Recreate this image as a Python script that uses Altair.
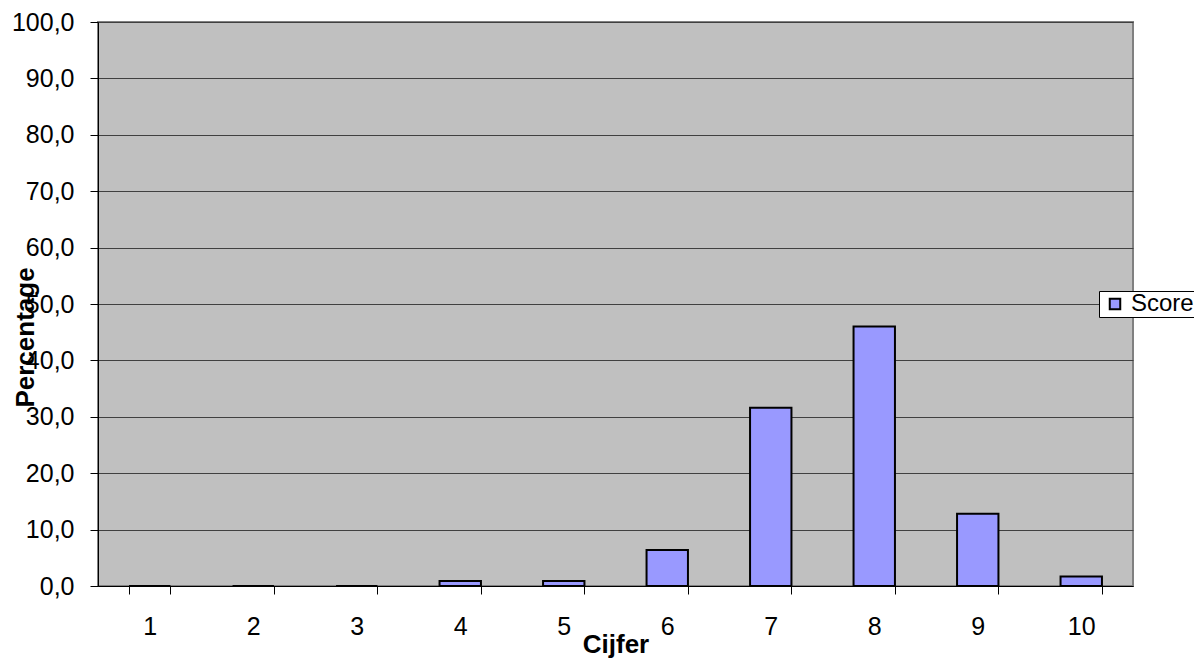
import altair as alt
import pandas as pd

categories = ["1", "2", "3", "4", "5", "6", "7", "8", "9", "10"]
values = [0.0, 0.0, 0.0, 0.9, 0.9, 6.4, 31.6, 46.0, 12.8, 1.7]
series = ["Score"] * len(categories)

df = pd.DataFrame({"Cijfer": categories, "Percentage": values, "Reeks": series})

FONT = "Liberation Sans"

bars = alt.Chart(df).mark_bar(stroke="black", strokeWidth=2).encode(
    x=alt.X("Cijfer:N", sort=categories,
            scale=alt.Scale(paddingInner=0.6, paddingOuter=0.3),
            axis=alt.Axis(title="Cijfer", labelAngle=0, labelFontSize=25, labelFont=FONT,
                          labelColor="black", labelPadding=20,
                          tickBand="extent", tickColor="black", tickSize=8,
                          domainColor="black", domainWidth=1,
                          titleFont=FONT, titleFontSize=26, titleFontWeight="bold",
                          titleColor="black", titleY=66,
                          titleAlign="center", titleBaseline="alphabetic")),
    y=alt.Y("Percentage:Q", scale=alt.Scale(domain=[0, 100], nice=False),
            axis=alt.Axis(title="Percentage", values=list(range(0, 101, 10)),
                          labelExpr="replace(format(datum.value, '.1f'), '.', ',')",
                          labelFontSize=25, labelFont=FONT, labelColor="black",
                          labelPadding=16, tickSize=8, tickColor="black",
                          domainColor="black", domainWidth=1,
                          grid=True, gridColor="#404040", gridWidth=1,
                          titleFont=FONT, titleFontSize=26, titleFontWeight="bold",
                          titleColor="black", titleX=-73, titleY=315,
                          titleAlign="center", titleBaseline="middle", titleAngle=-90)),
    color=alt.Color("Reeks:N", scale=alt.Scale(range=["#9999FF"]),
                    legend=alt.Legend(title=None, orient="none", legendX=1001, legendY=269,
                                      symbolType="square", symbolSize=110,
                                      symbolStrokeColor="black", symbolStrokeWidth=2,
                                      symbolOffset=3,
                                      labelFontSize=24, labelFont=FONT, labelColor="black",
                                      fillColor="white", strokeColor="black",
                                      padding=1, labelOffset=4)),
)

chart = bars.properties(
    width=1035, height=564,
    padding={"left": 90, "top": 14, "right": 61, "bottom": 74},
    autosize=alt.AutoSizeParams(type="none"),
    background="white",
).configure_view(
    fill="#C0C0C0", stroke="#808080", strokeWidth=2
)

chart.save("out.html", embed_options={"renderer": "svg", "actions": False})
